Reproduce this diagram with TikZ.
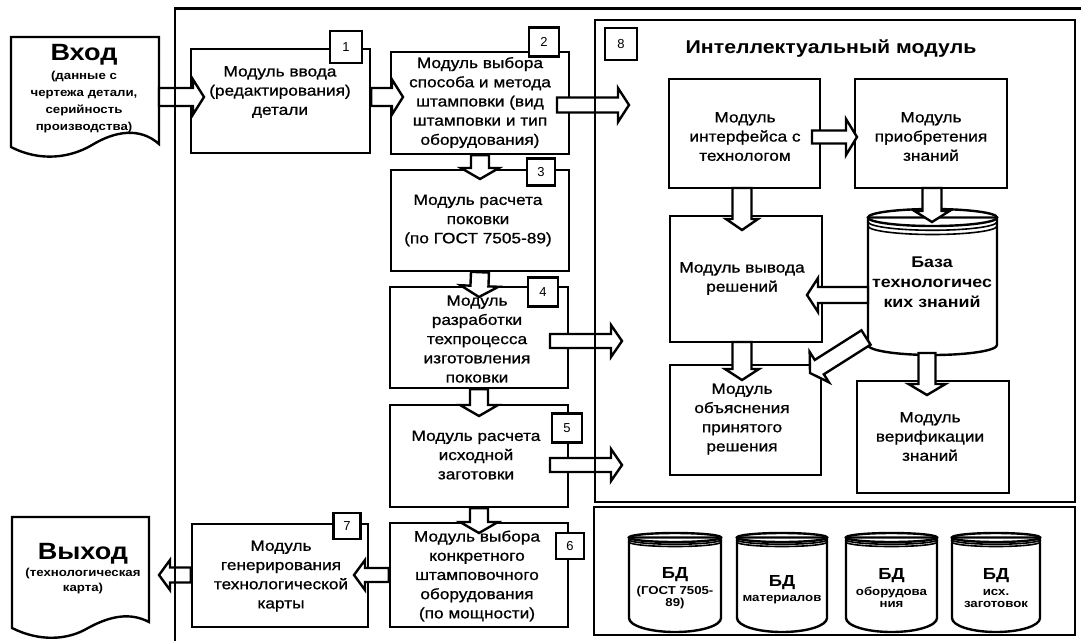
\documentclass[tikz,border=0pt]{standalone}
\usepackage{fontspec}
\setmainfont{Liberation Sans}
\newfontfamily\lab[FakeStretch=1.15, FakeBold=0.9]{Liberation Sans}
\newfontfamily\labs[FakeStretch=1.15]{Liberation Sans}
\usetikzlibrary{calc}
\pgfdeclarelayer{bg}\pgfdeclarelayer{fg}\pgfsetlayers{bg,main,fg}
\tikzset{
 ln/.style={line width=2.4pt},
 boxs/.style={ln, draw, rectangle, inner sep=0pt},
 frm/.style={ln, draw, rectangle, inner sep=0pt},
 mtext/.style={align=center, inner sep=0pt, font=\lab\fontsize{15}{19.2}\selectfont},
 num/.style={ln, draw, fill=white, rectangle, inner sep=0pt, minimum width=30pt, minimum height=29pt, font=\fontsize{13}{13}\selectfont},
 blk/.style={ln, draw=black, fill=white, line join=miter},
 doc/.style={ln, draw, line join=miter},
 cyls/.style={ln, draw},
 dbtext/.style={align=center, inner sep=0pt, font=\labs\bfseries\fontsize{11.5}{12}\selectfont},
}
% block arrow: from, to, shaft half width, head half width
\newcommand\barrow[4]{%
 \path ($(#2)!11pt!(#1)$) coordinate (bA);
 \draw[blk] ($(#1)!#3!90:(#2)$) -- ($(bA)!#3!-90:(#1)$) -- ($(bA)!#4!-90:(#1)$) -- (#2)
   -- ($(bA)!#4!90:(#1)$) -- ($(bA)!#3!90:(#1)$) -- ($(#1)!#3!-90:(#2)$) -- cycle;}
% cylinder: x1, x2, ytop, ybottom-of-sides, ry top, ry bottom
\newcommand\cylshape[6]{%
 \pgfmathsetmacro\cx{(#1+#2)/2}\pgfmathsetmacro\rx{(#2-#1)/2}%
 \pgfmathsetmacro\cy{#3+#5}%
 \draw[cyls, fill=white] (#1,\cy) -- (#1,#4) arc[start angle=180, end angle=0, x radius=\rx, y radius=#6] -- (#2,\cy) -- cycle;
 \draw[cyls] (\cx,\cy) ellipse[x radius=\rx, y radius=#5];
 \draw[ln, line width=1.6pt] (#1,\cy+0.5*#5) arc[start angle=180, end angle=0, x radius=\rx, y radius=#5];
 \draw[ln, line width=1.6pt] (#1,\cy+#5) arc[start angle=180, end angle=0, x radius=\rx, y radius=#5];
}
\begin{document}
\begin{tikzpicture}[x=1pt,y=-1pt]
\useasboundingbox (0,0) rectangle (1081,641);
% ---------- shapes (background layer)
\begin{pgfonlayer}{bg}
\fill[white] (0,0) rectangle (1081,641);
\node[boxs, minimum width=179pt, minimum height=104pt] (b1) at (280.5,101) {};
\node[boxs, minimum width=178pt, minimum height=102pt] (b2) at (480,103) {};
\node[boxs, minimum width=178pt, minimum height=101pt] (b3) at (480,220.5) {};
\node[boxs, minimum width=178pt, minimum height=101pt] (b4) at (479,337.5) {};
\node[boxs, minimum width=178pt, minimum height=102pt] (b5) at (479,456) {};
\node[boxs, minimum width=178pt, minimum height=104pt] (b6) at (479,575) {};
\node[boxs, minimum width=176pt, minimum height=103pt] (b7) at (280,575.5) {};
\node[boxs, minimum width=151pt, minimum height=109pt] (iface) at (744.5,133.5) {};
\node[boxs, minimum width=152pt, minimum height=109pt] (acq) at (931,133.5) {};
\node[boxs, minimum width=152pt, minimum height=126pt] (outm) at (746,279) {};
\node[boxs, minimum width=151pt, minimum height=110pt] (expl) at (745.5,420) {};
\node[boxs, minimum width=152pt, minimum height=112pt] (verif) at (933,437) {};
% documents
\draw[doc] (11,147) -- (11,37) -- (159,37) -- (159,144)
  .. controls (140,127) and (115,131) .. (92,145)
  .. controls (70,158) and (40,162) .. (11,147) -- cycle;
\draw[doc] (12,628) -- (12,517) -- (149,517) -- (149,622)
  .. controls (130,612) and (110,616) .. (88,628)
  .. controls (68,640) and (40,642) .. (12,628) -- cycle;
% knowledge base cylinder
\cylshape{868}{997}{209}{345}{8.5}{10}
\node[inner sep=0pt, minimum width=129pt, minimum height=146pt] (kb) at (932.5,282) {};
% data bases
\cylshape{629}{721}{533}{618}{4.5}{14}
\cylshape{737}{827}{533}{618}{4.5}{14}
\cylshape{846}{937}{533}{618}{4.5}{14}
\cylshape{952}{1040}{533}{618}{4.5}{14}
\node[inner sep=0pt] (in) at (85,92) {};
\node[inner sep=0pt] (out) at (80,572) {};
\end{pgfonlayer}
% ---------- block arrows
\coordinate (p1s) at (159,97);   \coordinate (p1e) at (204,97);
\coordinate (p2s) at (b1.east|-0,97); \coordinate (p2e) at (403,97);
\coordinate (p3s) at (557,105);  \coordinate (p3e) at (629,105);
\coordinate (p4s) at (b2.south); \coordinate (p4e) at (480,179);
\coordinate (p5s) at (b3.south); \coordinate (p5e) at (479,297);
\coordinate (p6s) at (b4.south); \coordinate (p6e) at (479,416);
\coordinate (p7s) at (b5.south); \coordinate (p7e) at (479,533);
\coordinate (p8s) at (550,341);  \coordinate (p8e) at (622,341);
\coordinate (p9s) at (550,465);  \coordinate (p9e) at (622,465);
\coordinate (p10s) at (b6.west|-0,575); \coordinate (p10e) at (354,575);
\coordinate (p11s) at (b7.west|-0,575); \coordinate (p11e) at (159,575);
\coordinate (q1s) at (812,137);  \coordinate (q1e) at (857,137);
\coordinate (q2s) at (742,188);  \coordinate (q2e) at (742,230);
\coordinate (q3s) at (932,188);  \coordinate (q3e) at (932,222);
\coordinate (q4s) at (868,295);  \coordinate (q4e) at (807,295);
\coordinate (q5s) at (866,337.5);\coordinate (q5e) at (810,373);
\coordinate (q6s) at (742,342);  \coordinate (q6e) at (742,380);
\coordinate (q7s) at (927,353);  \coordinate (q7e) at (927,395);
\barrow{p1s}{p1e}{9pt}{17.5pt}
\barrow{p2s}{p2e}{9pt}{17.5pt}
\barrow{p3s}{p3e}{7.5pt}{17pt}
\barrow{p4s}{p4e}{9pt}{19pt}
\barrow{p5s}{p5e}{9pt}{19pt}
\barrow{p6s}{p6e}{9pt}{19pt}
\barrow{p7s}{p7e}{9pt}{19pt}
\barrow{p8s}{p8e}{7pt}{16pt}
\barrow{p9s}{p9e}{7pt}{16pt}
\barrow{p10s}{p10e}{7pt}{15pt}
\barrow{p11s}{p11e}{7.5pt}{15pt}
\barrow{q1s}{q1e}{6.5pt}{18pt}
\barrow{q2s}{q2e}{9.5pt}{16pt}
\barrow{q3s}{q3e}{9.5pt}{17.5pt}
\barrow{q4s}{q4e}{8pt}{17pt}
\barrow{q5s}{q5e}{8.5pt}{18pt}
\barrow{q6s}{q6e}{9.5pt}{17pt}
\barrow{q7s}{q7e}{8.5pt}{18.5pt}
% ---------- foreground
\begin{pgfonlayer}{fg}
\draw[ln] (1081,8.5) -- (175,8.5) -- (175,641);
\node[frm, minimum width=480pt, minimum height=482pt] (im) at (835,261) {};
\node[frm, minimum width=481pt, minimum height=128pt] (dbf) at (834.5,571) {};
\node[inner sep=0pt, font=\labs\bfseries\fontsize{18.5}{18.5}\selectfont] (imt) at (831,49) {Интеллектуальный модуль};
\node[mtext] (t1) at (280,92) {Модуль ввода\\(редактирования)\\детали};
\node[mtext] (t2) at (480,102.5) {Модуль выбора\\способа и метода\\штамповки (вид\\штамповки и тип\\оборудования)};
\node[mtext] (t3) at (478,220.5) {Модуль расчета\\поковки\\(по ГОСТ 7505-89)};
\node[mtext] (t4) at (477,339) {Модуль\\разработки\\техпроцесса\\изготовления\\поковки};
\node[mtext] (t5) at (476,455) {Модуль расчета\\исходной\\заготовки};
\node[mtext] (t6) at (477,576) {Модуль выбора\\конкретного\\штамповочного\\оборудования\\(по мощности)};
\node[mtext] (t7) at (281,576) {Модуль\\генерирования\\технологической\\карты};
\node[mtext] (tif) at (745,136.5) {Модуль\\интерфейса с\\технологом};
\node[mtext] (tacq) at (931,136.5) {Модуль\\приобретения\\знаний};
\node[mtext] (tout) at (742,278.5) {Модуль вывода\\решений};
\node[mtext] (texpl) at (742,419) {Модуль\\объяснения\\принятого\\решения};
\node[mtext] (tver) at (930,436.5) {Модуль\\верификации\\знаний};
\node[align=center, inner sep=0pt, font=\labs\bfseries\fontsize{15.5}{20}\selectfont] (tkb) at (932,282) {База\\технологичес\\ких знаний};
\node[dbtext] (db1) at (675,588) {{\fontsize{16}{16}\selectfont БД}\\[4pt](ГОСТ 7505-\\89)};
\node[dbtext] (db2) at (782,590) {{\fontsize{16}{16}\selectfont БД}\\[3pt]материалов};
\node[dbtext] (db3) at (891.5,588) {{\fontsize{16}{16}\selectfont БД}\\[4pt]оборудова\\ния};
\node[dbtext] (db4) at (996,588) {{\fontsize{16}{16}\selectfont БД}\\[4pt]исх.\\заготовок};
\node[align=center, inner sep=0pt, font=\labs\bfseries\fontsize{11.5}{17}\selectfont] (tin) at (84,89) {{\fontsize{23.5}{23.5}\selectfont Вход}\\[2pt](данные с\\чертежа детали,\\серийность\\производства)};
\node[align=center, inner sep=0pt, font=\labs\bfseries\fontsize{11.5}{15}\selectfont] (tout2) at (83,569) {{\fontsize{23.5}{23.5}\selectfont Выход}\\[2pt](технологическая\\карта)};
\node[num, minimum width=32pt, minimum height=32pt] (n1) at (346,47) {1};
\node[num] (n2) at (544,42) {2};
\node[num, minimum width=28pt, minimum height=27pt] (n3) at (541,172) {3};
\node[num] (n4) at (543,292) {4};
\node[num] (n5) at (567,428) {5};
\node[num, minimum width=28pt, minimum height=26pt] (n6) at (570,546) {6};
\node[num, minimum width=27pt, minimum height=26pt] (n7) at (347,526) {7};
\node[num, minimum width=32pt, minimum height=32pt] (n8) at (621,44) {8};
\end{pgfonlayer}
\end{tikzpicture}
\end{document}
